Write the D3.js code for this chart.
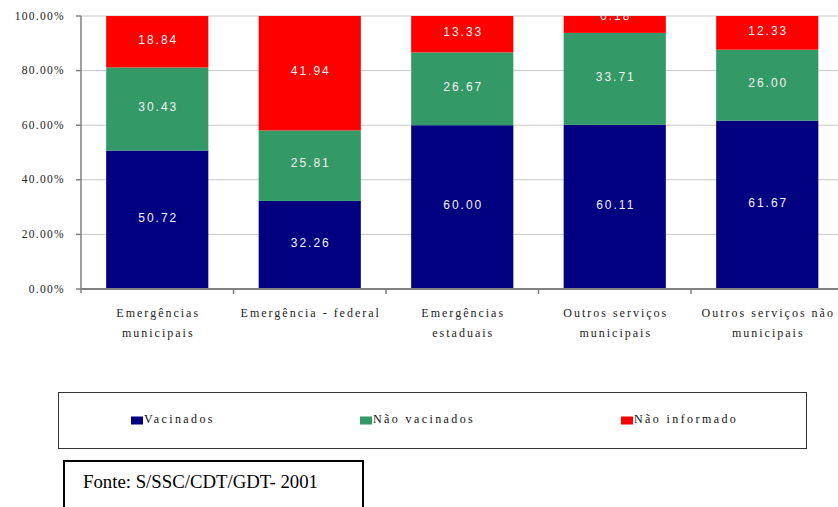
<!DOCTYPE html>
<html><head><meta charset="utf-8">
<script src="https://cdn.jsdelivr.net/npm/d3@7"></script>
<style>
html,body{margin:0;padding:0;background:#fff;overflow:hidden;}
svg{display:block;}
</style></head>
<body>
<script>
const categories = [
  ["Emergências", "municipais"],
  ["Emergência - federal"],
  ["Emergências", "estaduais"],
  ["Outros serviços", "municipais"],
  ["Outros serviços não", "municipais"]
];
const seriesNames = ["Vacinados", "Não vacinados", "Não informado"];
const vacinados     = [50.72, 32.26, 60.00, 60.11, 61.67];
const naoVacinados  = [30.43, 25.81, 26.67, 33.71, 26.00];
const naoInformado  = [18.84, 41.94, 13.33, 6.18, 12.33];
const yTicks = [0, 20, 40, 60, 80, 100];
const colors = ["#000080", "#339966", "#FF0000"];
const sourceText = "Fonte: S/SSC/CDT/GDT- 2001";

const W = 838, H = 507;
const svg = d3.select("body").append("svg").attr("width", W).attr("height", H);
const plot = {left: 81, top: 16, bottom: 289, right: 843.5};

const x = d3.scaleBand().domain(d3.range(categories.length))
  .range([plot.left, plot.right]).paddingInner(0.33).paddingOuter(0.165);
const y = d3.scaleLinear().domain([0, 100]).range([plot.bottom, plot.top]);

// gridlines
svg.append("g").selectAll("line").data(yTicks.filter(d => d > 0)).join("line")
  .attr("x1", plot.left).attr("x2", W)
  .attr("y1", d => y(d)).attr("y2", d => y(d))
  .attr("stroke", "#c8c8c8").attr("stroke-width", 1);

// stack
const rows = categories.map((c, i) => ({i, v0: vacinados[i], v1: naoVacinados[i], v2: naoInformado[i]}));
const stack = d3.stack().keys(["v0", "v1", "v2"])(rows);

const defs = svg.append("defs");
defs.append("clipPath").attr("id", "pc").append("rect")
  .attr("x", 0).attr("y", plot.top).attr("width", W).attr("height", plot.bottom - plot.top);

const gBars = svg.append("g");
stack.forEach((layer, k) => {
  gBars.append("g").attr("fill", colors[k]).selectAll("rect").data(layer).join("rect")
    .attr("x", d => x(d.data.i)).attr("width", x.bandwidth())
    .attr("y", d => y(d[1])).attr("height", d => y(d[0]) - y(d[1]));
});

const gLab = svg.append("g").attr("clip-path", "url(#pc)");
stack.forEach((layer, k) => {
  gLab.append("g").selectAll("text").data(layer).join("text")
    .attr("x", d => x(d.data.i) + x.bandwidth() / 2 + 1)
    .attr("y", d => {
      const h = y(d[0]) - y(d[1]);
      const c = h < 20 ? y(d[1]) : (y(d[0]) + y(d[1])) / 2 - 2.5;
      return c + 4.3;
    })
    .attr("text-anchor", "middle")
    .attr("font-family", "'Liberation Sans', Arial, sans-serif")
    .attr("font-size", 12).attr("letter-spacing", 2)
    .attr("fill", "#f2f2f2")
    .text(d => (d[1] - d[0]).toFixed(2));
});

// y axis
svg.append("line").attr("x1", plot.left).attr("x2", plot.left)
  .attr("y1", plot.top).attr("y2", plot.bottom + 4)
  .attr("stroke", "#808080").attr("stroke-width", 1.5);
const gy = svg.append("g");
gy.selectAll("line").data(yTicks).join("line")
  .attr("x1", plot.left - 5).attr("x2", plot.left)
  .attr("y1", d => y(d)).attr("y2", d => y(d))
  .attr("stroke", "#808080").attr("stroke-width", 1.5);
gy.selectAll("text").data(yTicks).join("text")
  .attr("x", plot.left - 16).attr("y", d => y(d) + 3.5)
  .attr("text-anchor", "end")
  .attr("font-family", "'Liberation Serif', 'Times New Roman', serif")
  .attr("font-size", 11.5).attr("letter-spacing", 1.3).attr("fill", "#222")
  .text(d => d.toFixed(2) + "%");

// x axis
svg.append("line").attr("x1", plot.left).attr("x2", W)
  .attr("y1", plot.bottom).attr("y2", plot.bottom)
  .attr("stroke", "#808080").attr("stroke-width", 2);
const bounds = d3.range(1, categories.length).map(i => x(i) - x.step() * x.paddingInner() / 2);
svg.append("g").selectAll("line").data(bounds).join("line")
  .attr("x1", d => d).attr("x2", d => d)
  .attr("y1", plot.bottom).attr("y2", plot.bottom + 5)
  .attr("stroke", "#808080").attr("stroke-width", 1.5);
const gx = svg.append("g");
categories.forEach((lines, i) => {
  const t = gx.append("text")
    .attr("text-anchor", "middle")
    .attr("font-family", "'Liberation Serif', 'Times New Roman', serif")
    .attr("font-size", 12).attr("letter-spacing", 2).attr("fill", "#222");
  lines.forEach((ln, j) => {
    t.append("tspan").attr("x", x(i) + x.bandwidth() / 2 + 1).attr("y", 317 + j * 20).text(ln);
  });
});

// legend
svg.append("rect").attr("x", 58.5).attr("y", 392.5).attr("width", 748).attr("height", 56)
  .attr("fill", "none").attr("stroke", "#333").attr("stroke-width", 1);
const legX = [131, 360, 621];
seriesNames.forEach((n, k) => {
  svg.append("rect").attr("x", legX[k]).attr("y", 416.5).attr("width", 12).attr("height", 8)
    .attr("fill", colors[k]);
  svg.append("text").attr("x", legX[k] + 13).attr("y", 422.5)
    .attr("font-family", "'Liberation Serif', 'Times New Roman', serif")
    .attr("font-size", 12).attr("letter-spacing", 2.4).attr("fill", "#111")
    .text(n);
});

// source box
svg.append("rect").attr("x", 64).attr("y", 461).attr("width", 299).attr("height", 60)
  .attr("fill", "#fff").attr("stroke", "#000").attr("stroke-width", 2);
svg.append("text").attr("x", 83).attr("y", 488)
  .attr("font-family", "'Liberation Serif', 'Times New Roman', serif")
  .attr("font-size", 18.5).attr("fill", "#000")
  .attr("textLength", 235).attr("lengthAdjust", "spacingAndGlyphs")
  .text(sourceText);
</script>
</body></html>
